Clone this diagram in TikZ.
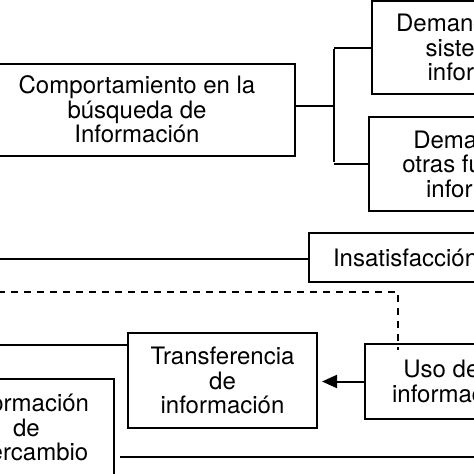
\documentclass[tikz,border=0pt]{standalone}
\usepackage{fontspec}
\setmainfont{TeX Gyre Heros}
\usetikzlibrary{arrows.meta}
\begin{document}
\begin{tikzpicture}[x=1pt,y=-1pt,
  conn/.style={line width=2pt},
  box/.style={draw, line width=2pt, align=center, inner sep=0pt,
    font=\fontsize{24}{24.5}\selectfont}]
\useasboundingbox (0,0) rectangle (474,474);
\clip (0,0) rectangle (474,474);
% boxes
\node[box, minimum width=316pt, minimum height=92pt] (b1) at (137,109.5)
  {Comportamiento en la\\búsqueda de\\Información};
\node[box, minimum width=235pt, minimum height=93pt] (b2) at (489.5,47.5)
  {Demandas en los\\sistemas de\\información};
\node[box, minimum width=238pt, minimum height=94pt] (b3) at (488,164)
  {Demandas en\\otras fuentes de\\información};
\node[box, anchor=west, minimum height=49pt, inner xsep=24pt] (ins) at (308,257.5)
  {Insatisfacción};
\node[box, minimum width=178pt, minimum height=75pt] (uso) at (454,381.5)
  {Uso de la\\información};
\node[box, minimum width=189pt, minimum height=95pt] (tr) at (222.5,380.5)
  {Transferencia\\de\\información};
\node[box, minimum width=175pt, minimum height=97pt] (ic) at (26.5,427.5)
  {Información\\de\\intercambio};
% bracket
\coordinate (j) at (334,106);
\draw[conn] (j -| b1.east) -- (j);
\draw[conn] (j |- b2.west) -- (b2.west);
\draw[conn] (j |- b3.west) -- (b3.west);
\draw[conn] ([yshift=-1pt]j |- b2.west) -- ([yshift=2pt]j |- b3.west);
% left lines
\coordinate (l1) at (-2,259);
\draw[conn] (l1) -- (l1 -| ins.west);
\coordinate (l2) at (-2,292);
\coordinate (dc) at (398,292);
\draw[conn, dash pattern=on 7pt off 6pt] (l2) -- (dc) -- ([yshift=-7pt]dc |- uso.north);
\coordinate (l3) at (-2,345);
\draw[conn] (l3) -- (l3 -| tr.west);
% arrow
\draw[conn, -{Triangle[length=15pt,width=13pt]}, shorten >=4pt] (uso.west) -- (uso.west -| tr.east);
% bottom line
\coordinate (r1) at (476,457);
\draw[conn, shorten >=5pt] (r1) -- (r1 -| ic.east);
\end{tikzpicture}
\end{document}
